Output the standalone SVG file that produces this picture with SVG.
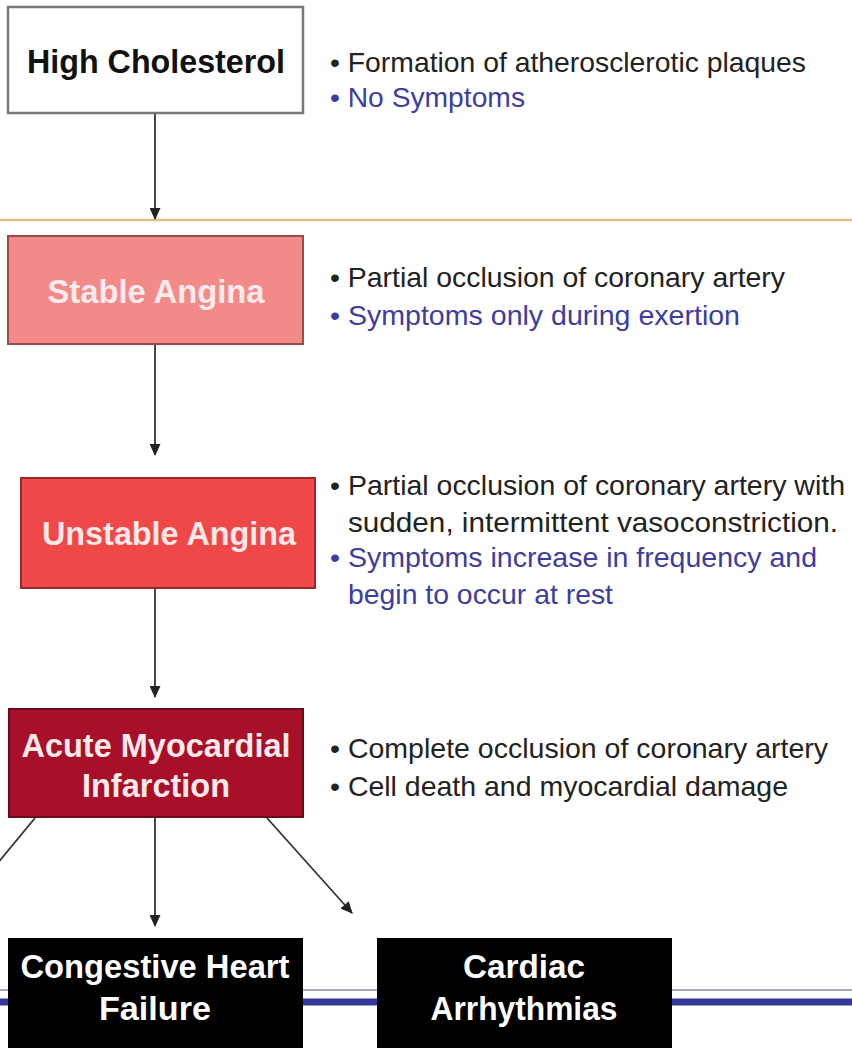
<svg xmlns="http://www.w3.org/2000/svg" width="852" height="1048" viewBox="0 0 852 1048">
<style>
.lbl{font-family:"Liberation Sans",Arial,sans-serif;font-weight:bold;font-size:33px;text-anchor:middle}
.bul{font-family:"Liberation Sans",Arial,sans-serif;font-size:28px;fill:#222}
.blue{fill:#3d3d9f}
.conn{stroke:#333;stroke-width:1.8;fill:none}
</style>
<defs>
<marker id="ah" markerWidth="13" markerHeight="11" refX="10" refY="5" orient="auto" markerUnits="userSpaceOnUse" viewBox="0 0 11 10">
<path d="M0,0 L11,5 L0,10 Z" fill="#222"/>
</marker>
</defs>
<rect width="852" height="1048" fill="#fff"/>
<g id="dividers">
<line x1="0" y1="220" x2="852" y2="220" stroke="#dcc27e" stroke-width="2.5"/>
<line x1="0" y1="990" x2="852" y2="990" stroke="#8a8aa8" stroke-width="1.5"/>
<line x1="0" y1="1002" x2="852" y2="1002" stroke="#36379a" stroke-width="7"/>
</g>
<g id="connectors">
<line class="conn" x1="155" y1="114" x2="155" y2="219" marker-end="url(#ah)"/>
<line class="conn" x1="155" y1="345" x2="155" y2="455" marker-end="url(#ah)"/>
<line class="conn" x1="155" y1="589" x2="155" y2="697" marker-end="url(#ah)"/>
<line class="conn" x1="155" y1="818" x2="155" y2="926" marker-end="url(#ah)"/>
<line class="conn" x1="267" y1="818" x2="352" y2="913" marker-end="url(#ah)"/>
<line class="conn" x1="35" y1="818" x2="-3" y2="864"/>
</g>
<g id="high-cholesterol">
<rect x="8" y="7" width="295" height="106" fill="#fff" stroke="#777" stroke-width="2.5"/>
<text class="lbl" x="156" y="73" fill="#111" textLength="258" lengthAdjust="spacingAndGlyphs">High Cholesterol</text>
<text class="bul" x="330" y="72" textLength="476" lengthAdjust="spacingAndGlyphs">• Formation of atherosclerotic plaques</text>
<text class="bul blue" x="330" y="107" textLength="195" lengthAdjust="spacingAndGlyphs">• No Symptoms</text>
</g>
<g id="stable-angina">
<rect x="8" y="236" width="295" height="108" fill="#f28a8a" stroke="#9e4a4a" stroke-width="2"/>
<text class="lbl" x="156" y="303" fill="#fdeaea" textLength="217" lengthAdjust="spacingAndGlyphs">Stable Angina</text>
<text class="bul" x="330" y="287" textLength="455" lengthAdjust="spacingAndGlyphs">• Partial occlusion of coronary artery</text>
<text class="bul blue" x="330" y="325" textLength="410" lengthAdjust="spacingAndGlyphs">• Symptoms only during exertion</text>
</g>
<g id="unstable-angina">
<rect x="21" y="478" width="294" height="110" fill="#f04848" stroke="#9a2a2a" stroke-width="2"/>
<text class="lbl" x="169" y="545" fill="#fde8e8" textLength="254" lengthAdjust="spacingAndGlyphs">Unstable Angina</text>
<text class="bul" x="330" y="495" textLength="515" lengthAdjust="spacingAndGlyphs">• Partial occlusion of coronary artery with</text>
<text class="bul" x="348" y="532" textLength="490" lengthAdjust="spacingAndGlyphs">sudden, intermittent vasoconstriction.</text>
<text class="bul blue" x="330" y="567" textLength="487" lengthAdjust="spacingAndGlyphs">• Symptoms increase in frequency and</text>
<text class="bul blue" x="348" y="604" textLength="265" lengthAdjust="spacingAndGlyphs">begin to occur at rest</text>
</g>
<g id="acute-mi">
<rect x="9" y="709" width="294" height="108" fill="#a80f28" stroke="#6a0a18" stroke-width="2"/>
<text class="lbl" x="156" y="757" fill="#fdeaea" textLength="269" lengthAdjust="spacingAndGlyphs">Acute Myocardial</text>
<text class="lbl" x="156" y="797" fill="#fdeaea" textLength="148" lengthAdjust="spacingAndGlyphs">Infarction</text>
<text class="bul" x="330" y="758" textLength="498" lengthAdjust="spacingAndGlyphs">• Complete occlusion of coronary artery</text>
<text class="bul" x="330" y="796" textLength="458" lengthAdjust="spacingAndGlyphs">• Cell death and myocardial damage</text>
</g>
<g id="congestive-heart-failure">
<rect x="8" y="938" width="295" height="112" fill="#000"/>
<text class="lbl" x="155" y="978" fill="#fff" textLength="269" lengthAdjust="spacingAndGlyphs">Congestive Heart</text>
<text class="lbl" x="155" y="1020" fill="#fff" textLength="112" lengthAdjust="spacingAndGlyphs">Failure</text>
</g>
<g id="cardiac-arrhythmias">
<rect x="377" y="938" width="295" height="112" fill="#000"/>
<text class="lbl" x="524" y="978" fill="#fff" textLength="122" lengthAdjust="spacingAndGlyphs">Cardiac</text>
<text class="lbl" x="524" y="1020" fill="#fff" textLength="187" lengthAdjust="spacingAndGlyphs">Arrhythmias</text>
</g>
</svg>
